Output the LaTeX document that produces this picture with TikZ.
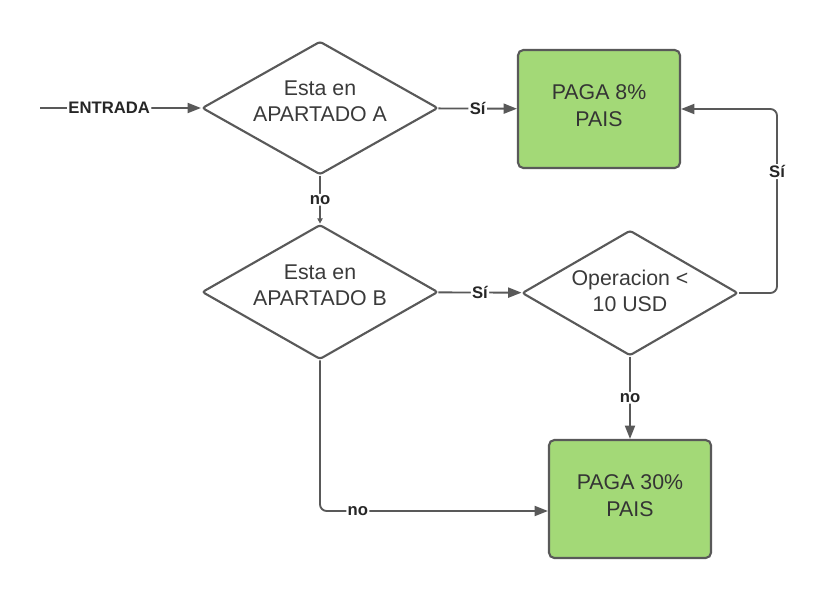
\documentclass[tikz,border=0pt]{standalone}
\usepackage{fontspec}
\setmainfont{Liberation Sans}
\usetikzlibrary{shapes.geometric}
\usetikzlibrary{arrows.meta}
\usetikzlibrary{positioning}
\definecolor{lineGray}{HTML}{595959}
\definecolor{textGray}{HTML}{3A3A3A}
\definecolor{payGreen}{HTML}{A3D977}
\tikzset{
    Decision/.style = {diamond, draw=lineGray, line width=1.6pt, rounded corners=2pt,
        inner sep=0pt},
    Dtext/.style = {align=center, inner sep=0pt, text=textGray, yshift=5pt,
        font=\fontsize{16}{20}\selectfont}
}
\tikzset{
    Action/.style = {rectangle, draw=lineGray, line width=1.6pt, rounded corners=4pt,
        fill=payGreen, align=center, text=textGray!90!black, text depth=5pt,
        minimum width=121.5pt, minimum height=88.5pt,
        font=\fontsize{16}{20}\selectfont}
}
\tikzset{
    Flow/.style = {draw=lineGray, line width=1.4pt, rounded corners=5pt,
        -{Triangle[length=10pt,width=7.5pt]}}
}

\begin{document}
\begin{tikzpicture}[
    x=0.75pt, y=-0.75pt,
    font=\bfseries\fontsize{12.5}{14}\selectfont
]
\tikzset{
    Lbl/.style = {fill=white, inner sep=1pt, text=black!85},
}
\useasboundingbox (0,0) rectangle (827,600);

\coordinate (in) at (40,108);
\node[Decision, minimum width=177pt, minimum height=100pt,
    label={[Dtext]center:Esta en\\APARTADO A}] at (320,108) (A) {};
\node[Action] at (599,109) (P8) {PAGA 8\%\\PAIS};
\node[Decision, minimum width=177pt, minimum height=101pt,
    label={[Dtext]center:Esta en\\APARTADO B}] at (320,292) (B) {};
\node[Decision, minimum width=162pt, minimum height=94pt,
    label={[Dtext, yshift=-3.5pt]center:Operacion <\\10 USD}] at (630,293) (C) {};
\node[Action] at (630,499) (P30) {PAGA 30\%\\PAIS};
\coordinate (loop) at (777,0);
\coordinate (lowin) at ([yshift=-9pt]P30.west);

\path (in) edge [Flow] node[Lbl, pos=0.43] {ENTRADA} (A);
\path (A) edge [Flow] node[Lbl] {Sí} (P8);
\path (A) edge [Flow, -{Triangle[length=4pt,width=4pt]}] node[Lbl] {no} (B);
\path (B) edge [Flow] node[Lbl] {Sí} (C);
\draw[Flow] (C.east) -- (C.east -| loop) |- node[Lbl, pos=0.33] {Sí} (P8.east);
\path (C) edge [Flow] node[Lbl] {no} (P30);
\draw[Flow] (B.south) |- node[Lbl, pos=0.583] {no} (lowin);
\end{tikzpicture}
\end{document}
